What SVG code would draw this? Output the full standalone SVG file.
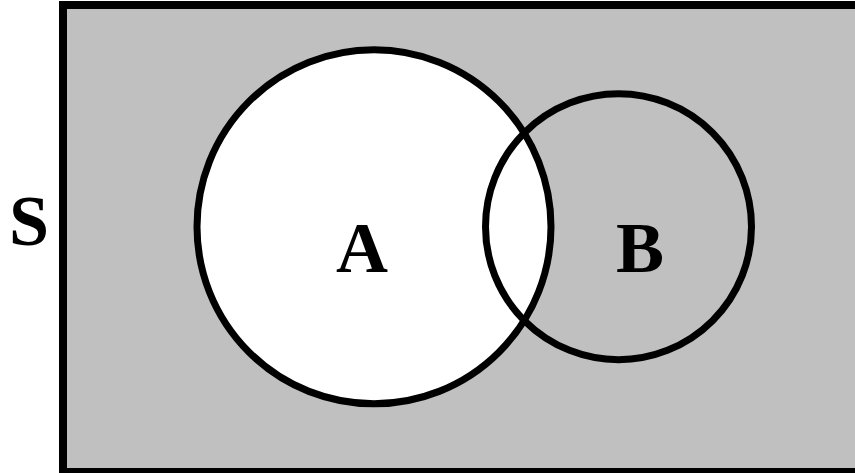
<svg xmlns="http://www.w3.org/2000/svg" width="855" height="473" viewBox="0 0 855 473">
<style>
.lbl{font-family:"Liberation Serif","Times New Roman",serif;font-weight:bold;font-size:72px;fill:#000;text-anchor:middle}
.ring{fill:none;stroke:#000;stroke-width:7}
</style>
<rect x="0" y="0" width="855" height="473" fill="#fff"/>
<g id="S">
<rect x="63" y="5" width="820" height="467" fill="#c0c0c0" stroke="#000" stroke-width="8"/>
<text class="lbl" x="29" y="245">S</text>
</g>
<g id="B">
<circle cx="618.5" cy="226.7" r="133" fill="#c0c0c0"/>
</g>
<g id="A">
<circle cx="374" cy="226.8" r="177" fill="#fff"/>
<circle class="ring" cx="374" cy="226.8" r="177"/>
<text class="lbl" x="362" y="272">A</text>
</g>
<g id="B-outline">
<circle class="ring" cx="618.5" cy="226.7" r="133"/>
<text class="lbl" x="640" y="272">B</text>
</g>
</svg>
